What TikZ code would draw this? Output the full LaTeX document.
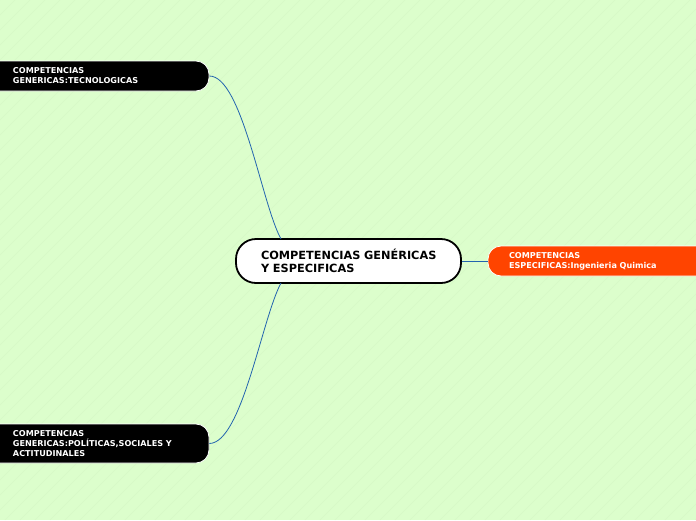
\documentclass[tikz,border=0pt]{standalone}
\usepackage{fontspec}
\setmainfont{DejaVu Sans}
\usetikzlibrary{positioning}
\definecolor{mapbg}{RGB}{220,254,204}
\definecolor{stripe}{RGB}{214,248,198}
\definecolor{linkblue}{RGB}{35,100,175}
\definecolor{specred}{RGB}{255,68,0}

\tikzset{
  rootbox/.style={draw=black, line width=1.8pt, fill=white, rounded corners=20pt,
    minimum width=225pt, minimum height=44pt, text width=200pt, align=left,
    font=\fontsize{11.3}{13}\selectfont\bfseries, inner sep=0pt},
  leafbox/.style={draw=white, line width=0.8pt, rounded corners=13pt,
    text=white, align=left, font=\fontsize{8.1}{10}\selectfont\bfseries, inner sep=0pt},
  link/.style={linkblue, line width=1.1pt}
}

\begin{document}
\begin{tikzpicture}[x=1pt, y=-1pt]
    % Background
    \fill[mapbg] (0,0) rectangle (696,520);
    \clip (0,0) rectangle (696,520);
    \foreach \s in {0,15,...,1230}
        \draw[stripe, line width=0.6pt] (\s-520,520) -- (\s,0);
    \useasboundingbox (0,0) rectangle (696,520);

    % Central topic
    \node[rootbox] (root) at (348.5,261) {\hspace*{12.5pt}COMPETENCIAS GENÉRICAS\\\hspace*{12.5pt}Y ESPECIFICAS};

    % Generic competences (left)
    \node[leafbox, fill=black, minimum width=229pt, minimum height=30pt,
          text width=200pt] (tecno) at (94.5,76)
          {\hspace*{18.5pt}COMPETENCIAS\\\hspace*{18.5pt}GENERICAS:TECNOLOGICAS};
    \node[leafbox, fill=black, minimum width=229pt, minimum height=39pt,
          text width=200pt] (social) at (94.5,443.5)
          {\hspace*{18.5pt}COMPETENCIAS\\\hspace*{18.5pt}GENERICAS:POLÍTICAS,SOCIALES Y\\\hspace*{18.5pt}ACTITUDINALES};

    % Specific competences (right)
    \node[leafbox, fill=specred, minimum width=240pt, minimum height=30pt,
          text width=220pt] (especif) at (608,261)
          {\hspace*{11pt}COMPETENCIAS\\\hspace*{11pt}ESPECIFICAS:Ingenieria Quimica};

    % Connectors
    \draw[link, line width=0.8pt] (tecno.east) .. controls (242,76) and (262,205) .. (281,239);
    \draw[link, line width=0.8pt] (social.east) .. controls (242,443) and (262,318) .. (281,283);
    \draw[link, line width=0.6pt] (root.east) -- (especif.west);
\end{tikzpicture}
\end{document}
